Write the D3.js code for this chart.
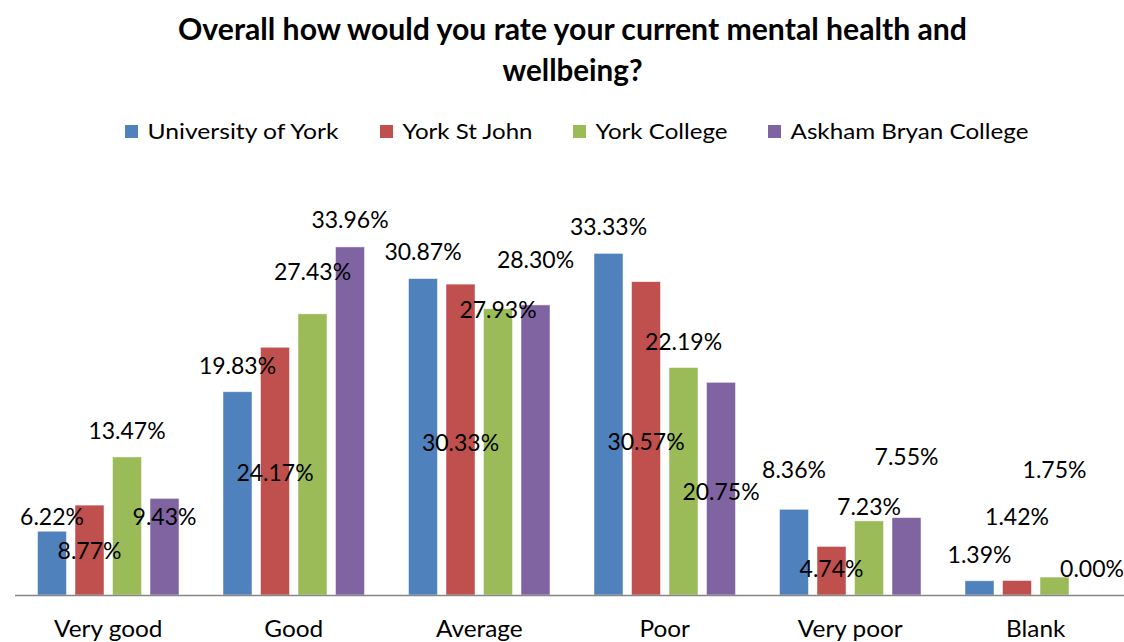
<!DOCTYPE html>
<html>
<head>
<meta charset="utf-8">
<script src="https://cdn.jsdelivr.net/npm/d3@7"></script>
<style>
  html, body { margin: 0; padding: 0; background: #fff; }
  svg { display: block; }
  text { font-family: Lato, "Open Sans", sans-serif; fill: #000; }
</style>
</head>
<body>
<svg id="chart" width="1124" height="642"></svg>
<script>
// ---- data ----
const categories = ["Very good", "Good", "Average", "Poor", "Very poor", "Blank"];
const seriesNames = ["University of York", "York St John", "York College", "Askham Bryan College"];
const universityOfYork = [6.22, 19.83, 30.87, 33.33, 8.36, 1.39];
const yorkStJohn       = [8.77, 24.17, 30.33, 30.57, 4.74, 1.42];
const yorkCollege      = [13.47, 27.43, 27.93, 22.19, 7.23, 1.75];
const askhamBryan      = [9.43, 33.96, 28.30, 20.75, 7.55, 0.00];
// data-label anchor values (in % units), as placed in the original chart
const labelUoY = [7.6, 22.4, 33.5, 35.9, 12.2, 3.9];
const labelYSJ = [4.3, 11.9, 14.9, 15.0, 2.6, 7.6];
const labelYC  = [16.0, 31.5, 27.8, 24.7, 8.6, 12.2];
const labelABC = [7.6, 36.6, 32.7, 10.1, 13.5, 2.6];
const titleLines = ["Overall how would you rate your current mental health and", "wellbeing?"];

const seriesValues = [universityOfYork, yorkStJohn, yorkCollege, askhamBryan];
const seriesLabels = [labelUoY, labelYSJ, labelYC, labelABC];
const colors = ["#4F81BD", "#C0504D", "#9BBB59", "#8064A2"];

const svg = d3.select("#chart");

// ---- scales ----
const baseY = 595;
const step = 185.5;
const y = d3.scaleLinear().domain([0, 40]).range([baseY, baseY - 410]);
const x0 = d3.scaleBand().domain(categories).range([15.5, 15.5 + step * categories.length]).padding(0);
const groupW = 141.5;
const x1 = d3.scaleBand().domain(seriesNames)
  .range([(x0.bandwidth() - groupW) / 2, (x0.bandwidth() + groupW) / 2])
  .paddingInner(0.227).paddingOuter(0);
const color = d3.scaleOrdinal().domain(seriesNames).range(colors);

// ---- title ----
const titleWidths = [789, 140];
svg.append("g").selectAll("text").data(titleLines).join("text")
  .attr("x", 572.5).attr("y", (d, i) => 40 + i * 41)
  .attr("text-anchor", "middle")
  .attr("textLength", (d, i) => titleWidths[i])
  .attr("lengthAdjust", "spacingAndGlyphs")
  .style("font-size", "30px").style("font-weight", "bold")
  .text(d => d);

// ---- legend ----
const legendX = [125, 380, 573, 768];
const legendW = [191, 130, 132, 238];
const legend = svg.append("g").selectAll("g").data(seriesNames).join("g")
  .attr("transform", (d, i) => `translate(${legendX[i]},131.5)`);
legend.append("rect").attr("x", 0).attr("y", -6.5).attr("width", 13).attr("height", 13)
  .attr("fill", d => color(d));
legend.append("text").attr("x", 22.5).attr("y", 7.5)
  .attr("textLength", (d, i) => legendW[i]).attr("lengthAdjust", "spacingAndGlyphs")
  .style("font-size", "22px").text(d => d);

// ---- bars ----
const rows = [];
categories.forEach((c, ci) => {
  seriesNames.forEach((s, si) => {
    rows.push({ cat: c, series: s, value: seriesValues[si][ci], labelAt: seriesLabels[si][ci] });
  });
});

const plot = svg.append("g");
plot.selectAll("rect.bar").data(rows).join("rect")
  .attr("class", "bar")
  .attr("x", d => x0(d.cat) + x1(d.series))
  .attr("width", x1.bandwidth())
  .attr("y", d => y(d.value))
  .attr("height", d => y(0) - y(d.value))
  .attr("fill", d => color(d.series))
  .attr("stroke", "#ffffff").attr("stroke-opacity", 0.6).attr("stroke-width", 0.8);

// ---- axis ----
const xAxis = d3.axisBottom(x0).tickSize(0).tickPadding(26);
const axisG = svg.append("g").attr("transform", `translate(0,${baseY})`).call(xAxis);
axisG.select(".domain").attr("d", `M15,0.5H1124`).attr("stroke", "#868686").attr("stroke-width", 1.3);
axisG.selectAll(".tick text").style("font-size", "23px").style("font-family", "Lato, sans-serif")
  .attr("fill", "#000")
  .attr("transform", "scale(1.06,1)");

// ---- data labels ----
plot.selectAll("text.lbl").data(rows).join("text")
  .attr("class", "lbl")
  .attr("x", d => x0(d.cat) + x1(d.series) + x1.bandwidth() / 2)
  .attr("y", d => y(d.labelAt))
  .attr("dy", "0.36em")
  .attr("text-anchor", "middle")
  .style("font-size", "23px")
  .attr("fill", "#1a1a1a")
  .text(d => d.value.toFixed(2) + "%");
</script>
</body>
</html>
